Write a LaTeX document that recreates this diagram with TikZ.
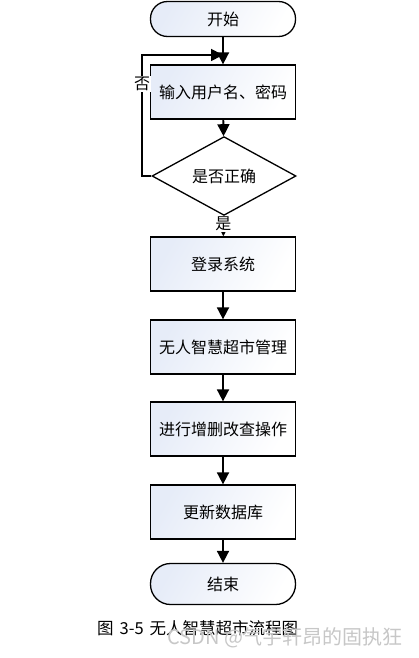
\documentclass[tikz,border=0pt]{standalone}
\usepackage{fontspec}
\setmainfont{Noto Sans CJK SC}
\usetikzlibrary{shapes.geometric,arrows.meta}

\definecolor{boxfill}{RGB}{230,236,248}
\tikzset{
  box/.style={draw,line width=1.3pt,minimum width=145pt,minimum height=54pt,
    left color=boxfill,right color=white,shading angle=60,font=\fontsize{16}{18}\selectfont},
  term/.style={box,rounded corners=17pt,minimum height=35pt},
  decide/.style={diamond,draw,line width=1.3pt,fill=white,minimum width=144pt,minimum height=54pt,
    inner sep=0pt,font=\fontsize{16}{18}\selectfont},
  flow/.style={line width=1.8pt,-{Triangle[length=12pt,width=12pt]}},
  tag/.style={fill=white,inner sep=1pt,font=\fontsize{16}{18}\selectfont}
}

\begin{document}
\begin{tikzpicture}[x=1pt,y=-1pt]
  \useasboundingbox[fill=white] (0,0) rectangle (419,658);
  % nodes
  \node[term] (start) at (223,19) {开始};
  \node[box] (login) at (223,92) {输入用户名、密码};
  \node[decide] (check) at (224,176) {是否正确};
  \node[box] (sys) at (223,264) {登录系统};
  \node[box] (manage) at (223,347) {无人智慧超市管理};
  \node[box] (edit) at (223,429) {进行增删改查操作};
  \node[box] (db) at (223,512) {更新数据库};
  \node[term,rounded corners=20pt,minimum height=41pt] (stop) at (223,584) {结束};
  \coordinate (join) at (223,55);
  % arrows
  \draw[flow] (start) -- (login);
  \draw[flow] (login) -- (check);
  \draw[flow] (check) -- (sys) node[tag,pos=0.4] {是};
  \draw[flow] (sys) -- (manage);
  \draw[flow] (manage) -- (edit);
  \draw[flow] (edit) -- (db);
  \draw[flow] (db) -- (stop);
  \draw[flow] (check.west) -- (142,176) -- (142,55) node[tag,pos=0.76] {否} -- (join);
  % caption
  \node[font=\fontsize{16.5}{18}\selectfont,anchor=west,inner sep=0pt] (cap) at (97,628)
    {图\hspace{6pt}3-5\hspace{6pt}无人智慧超市流程图};
  \node[font=\fontsize{20}{22}\selectfont,text=black!22,anchor=west,inner sep=0pt] (mark) at (167,638) {CSDN @气宇轩昂的固执狂};
\end{tikzpicture}
\end{document}
